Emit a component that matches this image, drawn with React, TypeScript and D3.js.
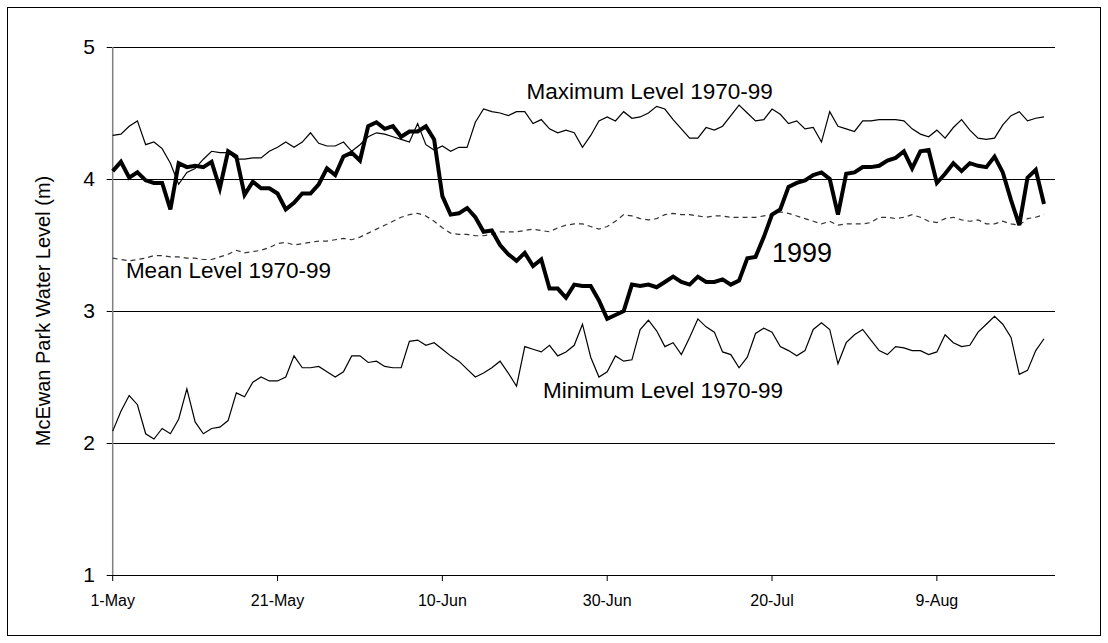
import React from "react";
import * as d3 from "d3";

// x axis: one point per day starting 1-May
const tickLabels = ["1-May", "21-May", "10-Jun", "30-Jun", "20-Jul", "9-Aug"];
const tickDays = [0, 20, 40, 60, 80, 100];
const yTicks = [1, 2, 3, 4, 5];

// daily water levels (m)
const level1999 = [
  4.06, 4.13, 4.01, 4.05, 3.99, 3.97, 3.97, 3.77, 4.12, 4.09, 4.1, 4.09, 4.13, 3.93, 4.21, 4.17, 3.88, 3.98, 3.93, 3.93,
  3.89, 3.77, 3.82, 3.89, 3.89, 3.96, 4.08, 4.03, 4.17, 4.2, 4.14, 4.4, 4.43, 4.38, 4.4, 4.32, 4.36, 4.36, 4.4, 4.3,
  3.87, 3.73, 3.74, 3.78, 3.71, 3.6, 3.61, 3.5, 3.43, 3.38, 3.44, 3.34, 3.39, 3.17, 3.17, 3.1, 3.2, 3.19, 3.19, 3.08,
  2.94, 2.97, 3.0, 3.2, 3.19, 3.2, 3.18, 3.22, 3.26, 3.22, 3.2, 3.26, 3.22, 3.22, 3.24, 3.2, 3.23, 3.4, 3.41, 3.56,
  3.73, 3.77, 3.94, 3.97, 3.99, 4.03, 4.05, 4.0, 3.73, 4.04, 4.05, 4.09, 4.09, 4.1, 4.14, 4.16, 4.21, 4.08, 4.21, 4.22,
  3.97, 4.04, 4.12, 4.06, 4.12, 4.1, 4.09, 4.17, 4.05, 3.84, 3.65, 4.01, 4.07, 3.81,
];

const maxLevel = [
  4.33, 4.34, 4.4, 4.44, 4.26, 4.28, 4.23, 4.12, 3.96, 4.05, 4.08, 4.15, 4.21, 4.2, 4.2, 4.15, 4.15, 4.16, 4.16, 4.21,
  4.24, 4.28, 4.24, 4.28, 4.35, 4.27, 4.25, 4.25, 4.28, 4.21, 4.26, 4.32, 4.35, 4.34, 4.32, 4.3, 4.28, 4.42, 4.26, 4.22,
  4.25, 4.21, 4.24, 4.24, 4.43, 4.53, 4.51, 4.5, 4.48, 4.51, 4.51, 4.42, 4.45, 4.38, 4.35, 4.37, 4.35, 4.24, 4.33, 4.44,
  4.47, 4.44, 4.51, 4.46, 4.47, 4.5, 4.55, 4.53, 4.45, 4.38, 4.31, 4.31, 4.39, 4.37, 4.4, 4.48, 4.56, 4.5, 4.44, 4.45,
  4.53, 4.49, 4.42, 4.44, 4.38, 4.39, 4.28, 4.51, 4.4, 4.38, 4.36, 4.44, 4.44, 4.45, 4.45, 4.45, 4.44, 4.38, 4.34, 4.32,
  4.37, 4.31, 4.39, 4.45, 4.37, 4.31, 4.3, 4.31, 4.41, 4.48, 4.51, 4.44, 4.46, 4.47,
];

const meanLevel = [
  3.4, 3.39, 3.38, 3.39, 3.4, 3.42, 3.42, 3.41, 3.41, 3.4, 3.4, 3.39, 3.39, 3.41, 3.43, 3.46, 3.44, 3.45, 3.46, 3.48,
  3.51, 3.52, 3.5, 3.51, 3.52, 3.53, 3.53, 3.54, 3.55, 3.54, 3.56, 3.59, 3.62, 3.65, 3.68, 3.71, 3.73, 3.74, 3.72, 3.68,
  3.63, 3.59, 3.58, 3.58, 3.57, 3.57, 3.58, 3.6, 3.6, 3.6, 3.61, 3.62, 3.61, 3.6, 3.63, 3.65, 3.66, 3.66, 3.64, 3.62,
  3.64, 3.68, 3.73, 3.72, 3.7, 3.69, 3.7, 3.73, 3.74, 3.73, 3.73, 3.72, 3.71, 3.72, 3.72, 3.71, 3.71, 3.71, 3.71, 3.72,
  3.73, 3.75, 3.74, 3.72, 3.7, 3.68, 3.66, 3.68, 3.65, 3.66, 3.66, 3.66, 3.67, 3.71, 3.71, 3.7, 3.71, 3.73, 3.71, 3.68,
  3.67, 3.7, 3.71, 3.69, 3.68, 3.69, 3.66, 3.66, 3.68, 3.66, 3.65, 3.7, 3.71, 3.73,
];

const minLevel = [
  2.09, 2.24, 2.36, 2.29, 2.07, 2.03, 2.11, 2.07, 2.18, 2.41, 2.16, 2.07, 2.11, 2.12, 2.17, 2.38, 2.35, 2.46, 2.5, 2.47,
  2.47, 2.5, 2.66, 2.57, 2.57, 2.58, 2.54, 2.5, 2.54, 2.66, 2.66, 2.61, 2.62, 2.58, 2.57, 2.57, 2.77, 2.78, 2.74, 2.76,
  2.71, 2.66, 2.62, 2.56, 2.5, 2.53, 2.57, 2.62, 2.53, 2.43, 2.73, 2.71, 2.69, 2.74, 2.66, 2.69, 2.74, 2.9, 2.65, 2.5,
  2.54, 2.66, 2.62, 2.63, 2.86, 2.93, 2.85, 2.73, 2.76, 2.67, 2.8, 2.94, 2.88, 2.84, 2.69, 2.67, 2.57, 2.65, 2.83, 2.87,
  2.84, 2.73, 2.7, 2.66, 2.7, 2.86, 2.91, 2.86, 2.6, 2.76, 2.82, 2.86, 2.78, 2.7, 2.67, 2.73, 2.72, 2.7, 2.7, 2.67,
  2.69, 2.82, 2.76, 2.73, 2.74, 2.84, 2.9, 2.96, 2.9, 2.8, 2.52, 2.55, 2.7, 2.79,
];

const W = 1108;
const H = 643;
const plot = { left: 112.7, top: 47, right: 1055, bottom: 575 };
const font = "Arial, 'Liberation Sans', sans-serif";

export default function App() {
  const x = d3
    .scaleLinear()
    .domain([0, level1999.length - 1])
    .range([plot.left, 1044]);
  const y = d3.scaleLinear().domain([1, 5]).range([plot.bottom, plot.top]);

  const line = d3
    .line<number>()
    .x((d, i) => x(i))
    .y((d) => y(d));

  return (
    <svg
      width={W}
      height={H}
      style={{ position: "absolute", left: 0, top: 0, background: "#fff" }}
      fontFamily={font}
    >
      {/* chart border */}
      <rect x={7.5} y={7.5} width={1093} height={628} fill="none" stroke="#000" strokeWidth={1} />

      {/* gridlines + y labels */}
      {yTicks.map((t) => (
        <g key={t}>
          <line
            x1={plot.left - 6}
            x2={plot.right}
            y1={Math.round(y(t)) + 0.5}
            y2={Math.round(y(t)) + 0.5}
            stroke="#000"
            strokeWidth={1}
          />
          <text x={95} y={y(t) + 7} textAnchor="end" fontSize={21}>
            {t}
          </text>
        </g>
      ))}

      {/* y axis */}
      <line x1={plot.left} x2={plot.left} y1={plot.top} y2={plot.bottom} stroke="#808080" strokeWidth={1.5} />

      {/* x ticks */}
      {tickDays.map((d, i) => (
        <g key={d}>
          <line x1={x(d)} x2={x(d)} y1={plot.bottom} y2={plot.bottom + 6} stroke="#000" />
          <text x={x(d)} y={plot.bottom + 31} textAnchor="middle" fontSize={16}>
            {tickLabels[i]}
          </text>
        </g>
      ))}

      {/* y title */}
      <text
        transform={`translate(50, ${(plot.top + plot.bottom) / 2}) rotate(-90)`}
        textAnchor="middle"
        fontSize={20}
      >
        McEwan Park Water Level (m)
      </text>

      {/* series */}
      <path d={line(meanLevel) ?? ""} fill="none" stroke="#333" strokeWidth={1.2} strokeDasharray="5,4" />
      <path d={line(maxLevel) ?? ""} fill="none" stroke="#000" strokeWidth={1.2} />
      <path d={line(minLevel) ?? ""} fill="none" stroke="#000" strokeWidth={1.2} />
      <path d={line(level1999) ?? ""} fill="none" stroke="#000" strokeWidth={4} strokeLinejoin="miter" />

      {/* annotations */}
      <text x={x(50.2)} y={y(4.606)} fontSize={22.5}>
        Maximum Level 1970-99
      </text>
      <text x={x(1.6)} y={y(3.248)} fontSize={22.5}>
        Mean Level 1970-99
      </text>
      <text x={x(52.2)} y={y(2.339)} fontSize={22.5}>
        Minimum Level 1970-99
      </text>
      <text x={x(80)} y={y(3.373)} fontSize={27}>
        1999
      </text>
    </svg>
  );
}
